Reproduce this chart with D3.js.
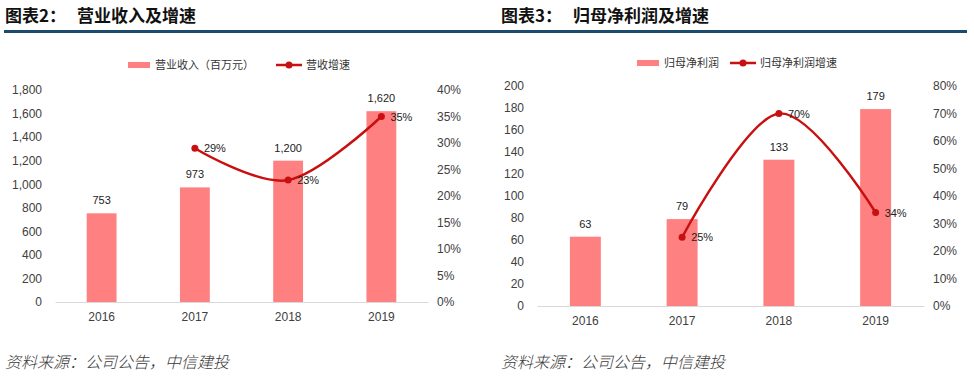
<!DOCTYPE html>
<html>
<head>
<meta charset="utf-8">
<script src="https://cdn.jsdelivr.net/npm/d3@7"></script>
<style>
  body { margin: 0; background: #fff; }
  svg { display: block; font-family: "Liberation Sans", Arial, sans-serif; }
  .cjk { font-family: "Noto Sans CJK SC", sans-serif; }
</style>
</head>
<body>
<div id="chart"></div>
<script>
// data
var years = ["2016", "2017", "2018", "2019"];
var revenue = [753, 973, 1200, 1620];
var revenueGrowth = [null, 0.29, 0.23, 0.35];
var profit = [63, 79, 133, 179];
var profitGrowth = [null, 0.25, 0.70, 0.34];

var revTicks = [0, 200, 400, 600, 800, 1000, 1200, 1400, 1600, 1800];
var revPctTicks = [0, 0.05, 0.10, 0.15, 0.20, 0.25, 0.30, 0.35, 0.40];
var profitTicks = [0, 20, 40, 60, 80, 100, 120, 140, 160, 180, 200];
var profitPctTicks = [0, 0.1, 0.2, 0.3, 0.4, 0.5, 0.6, 0.7, 0.8];

var barColor = "#ff8080";
var lineColor = "#c81010";
var textColor = "#404040";

var svg = d3.select("#chart")
    .append("svg")
    .attr("width", 974)
    .attr("height", 380);

function drawPanel(p) {
    var g = svg.append("g");

    // title
    g.append("text")
        .attr("class", "cjk")
        .attr("x", p.titleX)
        .attr("y", 22)
        .attr("font-size", 17)
        .attr("font-weight", "bold")
        .attr("fill", "#111")
        .text(p.label);
    g.append("text")
        .attr("class", "cjk")
        .attr("x", p.titleX + 72)
        .attr("y", 22)
        .attr("font-size", 17)
        .attr("font-weight", "bold")
        .attr("fill", "#111")
        .text(p.title);

    // rule under title
    g.append("rect")
        .attr("x", p.ruleX1)
        .attr("y", 30)
        .attr("width", p.ruleX2 - p.ruleX1)
        .attr("height", 3)
        .attr("fill", "#1d4b6b");

    var x = d3.scaleBand()
        .domain(years)
        .range([p.left, p.right])
        .paddingInner(0.68)
        .paddingOuter(0.34);

    var y = d3.scaleLinear()
        .domain([0, d3.max(p.ticks)])
        .range([p.bottom, p.top]);

    var y2 = d3.scaleLinear()
        .domain([0, d3.max(p.pctTicks)])
        .range([p.bottom, p.top]);

    // left axis
    var yAxis = g.append("g")
        .attr("transform", "translate(" + (p.left - 13) + ",0)")
        .call(d3.axisLeft(y).tickValues(p.ticks).tickSize(0).tickPadding(0)
            .tickFormat(d3.format(",")));
    yAxis.select(".domain").remove();
    yAxis.selectAll("text").attr("font-size", 12).attr("fill", textColor)
        .attr("font-family", "Liberation Sans, Arial, sans-serif");

    // right axis
    var yAxis2 = g.append("g")
        .attr("transform", "translate(" + (p.right + 9) + ",0)")
        .call(d3.axisRight(y2).tickValues(p.pctTicks).tickSize(0).tickPadding(0)
            .tickFormat(d3.format(".0%")));
    yAxis2.select(".domain").remove();
    yAxis2.selectAll("text").attr("font-size", 12).attr("fill", textColor)
        .attr("font-family", "Liberation Sans, Arial, sans-serif");

    // bars
    g.selectAll(".bar")
        .data(p.values)
        .enter()
        .append("rect")
        .attr("x", function(d, i) { return x(years[i]); })
        .attr("y", function(d) { return y(d); })
        .attr("width", x.bandwidth())
        .attr("height", function(d) { return p.bottom - y(d); })
        .attr("fill", barColor);

    // x axis
    var xAxis = g.append("g")
        .attr("transform", "translate(0," + p.bottom + ")")
        .call(d3.axisBottom(x).tickSize(0).tickPadding(10));
    xAxis.select(".domain").attr("stroke", "#d9d9d9");
    xAxis.selectAll("text").attr("font-size", 12).attr("fill", textColor)
        .attr("font-family", "Liberation Sans, Arial, sans-serif");

    // bar labels
    g.selectAll(".bar-label")
        .data(p.values)
        .enter()
        .append("text")
        .attr("x", function(d, i) { return x(years[i]) + x.bandwidth() / 2; })
        .attr("y", function(d) { return y(d) - 9; })
        .attr("text-anchor", "middle")
        .attr("font-size", 11)
        .attr("fill", "#222")
        .text(function(d) { return d3.format(",")(d); });

    // growth line
    var pts = p.growth.map(function(d, i) { return { year: years[i], v: d }; })
        .filter(function(d) { return d.v != null; });

    var line = d3.line()
        .x(function(d) { return x(d.year) + x.bandwidth() / 2; })
        .y(function(d) { return y2(d.v); })
        .curve(d3.curveCardinal.tension(0));

    g.append("path")
        .datum(pts)
        .attr("d", line)
        .attr("fill", "none")
        .attr("stroke", lineColor)
        .attr("stroke-width", 2.5);

    g.selectAll(".dot")
        .data(pts)
        .enter()
        .append("circle")
        .attr("cx", function(d) { return x(d.year) + x.bandwidth() / 2; })
        .attr("cy", function(d) { return y2(d.v); })
        .attr("r", 3.5)
        .attr("fill", lineColor);

    g.selectAll(".pct-label")
        .data(pts)
        .enter()
        .append("text")
        .attr("x", function(d) { return x(d.year) + x.bandwidth() / 2 + 9; })
        .attr("y", function(d) { return y2(d.v) + 4; })
        .attr("font-size", 11)
        .attr("fill", "#222")
        .text(function(d) { return d3.format(".0%")(d.v); });

    // legend
    var lg = g.append("g").attr("class", "cjk");
    lg.append("rect")
        .attr("x", p.legX)
        .attr("y", p.legY - 3)
        .attr("width", 22)
        .attr("height", 6)
        .attr("fill", barColor);
    lg.append("text")
        .attr("x", p.legX + 27)
        .attr("y", p.legY + 4)
        .attr("font-size", 11)
        .attr("fill", "#333")
        .text(p.legBar);
    lg.append("line")
        .attr("x1", p.legX2)
        .attr("x2", p.legX2 + 26)
        .attr("y1", p.legY)
        .attr("y2", p.legY)
        .attr("stroke", lineColor)
        .attr("stroke-width", 2.5);
    lg.append("circle")
        .attr("cx", p.legX2 + 13)
        .attr("cy", p.legY)
        .attr("r", 3.5)
        .attr("fill", lineColor);
    lg.append("text")
        .attr("x", p.legX2 + 30)
        .attr("y", p.legY + 4)
        .attr("font-size", 11)
        .attr("fill", "#333")
        .text(p.legLine);

    // source
    g.append("text")
        .attr("class", "cjk")
        .attr("x", p.titleX)
        .attr("y", 368)
        .attr("font-size", 16)
        .attr("font-style", "italic")
        .attr("font-weight", 300)
        .attr("fill", "#3a3a3a")
        .text("资料来源：公司公告，中信建投");
}

drawPanel({
    label: "图表2：", title: "营业收入及增速", titleX: 5,
    ruleX1: 4, ruleX2: 487,
    left: 55, right: 428, top: 90, bottom: 302,
    values: revenue, growth: revenueGrowth,
    ticks: revTicks, pctTicks: revPctTicks,
    legX: 128, legX2: 276, legY: 65,
    legBar: "营业收入（百万元）", legLine: "营收增速"
});

drawPanel({
    label: "图表3：", title: "归母净利润及增速", titleX: 501,
    ruleX1: 487, ruleX2: 967,
    left: 537, right: 924, top: 86, bottom: 306,
    values: profit, growth: profitGrowth,
    ticks: profitTicks, pctTicks: profitPctTicks,
    legX: 637, legX2: 730, legY: 63,
    legBar: "归母净利润", legLine: "归母净利润增速"
});
</script>
</body>
</html>
